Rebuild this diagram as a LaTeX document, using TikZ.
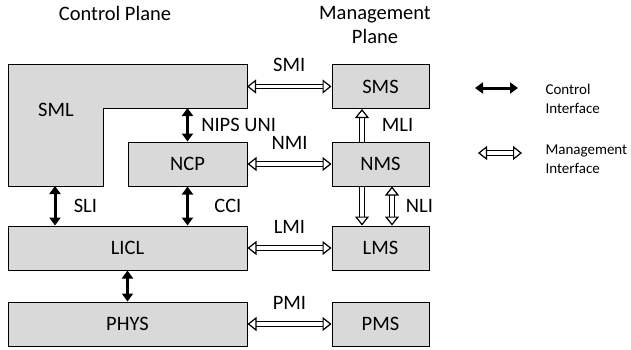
\documentclass[tikz,border=0pt]{standalone}
\usepackage{fontspec}
\setmainfont{Carlito}
\usetikzlibrary{arrows.meta,positioning}
\definecolor{boxgray}{HTML}{D9D9D9}

\begin{document}
\begin{tikzpicture}[x=1pt,y=-1pt,
		font=\fontsize{20.5}{24}\selectfont,
		block/.style={draw,fill=boxgray,line width=1pt,minimum height=44pt,inner sep=0pt},
		ctrl/.style={{Triangle[width=11pt,length=8pt]}-{Triangle[width=11pt,length=8pt]},line width=3pt},
		mgmt/.style={double,double distance=3.2pt,line width=1.2pt,
			{Triangle[open,width=14pt,length=9pt,line width=1.2pt]}-{Triangle[open,width=14pt,length=9pt,line width=1.2pt]}},
		mgmtup/.style={double,double distance=3.2pt,line width=1.2pt,
			arrows={-Triangle[open,width=14pt,length=9pt,line width=1.2pt]}},
		legendtext/.style={font=\fontsize{15}{19}\selectfont,align=left,anchor=west}
		]
		\useasboundingbox (0,0) rectangle (631,349);

		% planes
		\node (cplane) at (115,13) {Control Plane};
		\node[align=center] (mplane) at (375,25) {Management\\Plane};

		% control plane
		\draw[fill=boxgray,line width=1pt] (8,64) -- (247,64) -- (247,108) -- (103,108)
			-- (103,186) -- (8,186) -- cycle;
		\node (SML) at (56,110) {SML};
		\coordinate (smlnotch) at (187.5,108);
		\coordinate (smlbase) at (55,186);
		\coordinate (smlside) at (247,86.5);
		\node[block,minimum width=119pt] (NCP) at (187.5,164) {NCP};
		\node[block,minimum width=239pt] (LICL) at (127.5,248) {LICL};
		\node[block,minimum width=239pt] (PHYS) at (127.5,324) {PHYS};

		% management plane
		\node[block,minimum width=97pt] (SMS) at (380.5,86.5) {SMS};
		\node[block,minimum width=97pt] (NMS) at (380.5,164) {NMS};
		\node[block,minimum width=97pt] (LMS) at (380.5,248) {LMS};
		\node[block,minimum width=97pt] (PMS) at (380.5,324) {PMS};

		% control interfaces
		\draw[ctrl] (smlnotch) -- (NCP.north) node[midway,right=9pt]{NIPS UNI};
		\draw[ctrl] (smlbase) -- (smlbase |- LICL.north) node[midway,right=14pt]{SLI};
		\draw[ctrl] (NCP.south) -- (NCP.south |- LICL.north) node[midway,right=22pt]{CCI};
		\draw[ctrl] (LICL.south) -- (PHYS.north);

		% management interfaces
		\draw[mgmt] (smlside) -- (SMS.west) node[midway,above=11pt]{SMI};
		\draw[mgmt] (NCP.east) -- (NMS.west) node[midway,above=11pt]{NMI};
		\draw[mgmt] (LICL.east) -- (LMS.west) node[midway,above=11pt]{LMI};
		\draw[mgmt] (PHYS.east) -- (PMS.west) node[midway,above=11pt]{PMI};
		\draw[mgmtup] ([xshift=-18.5pt]NMS.north) -- ([xshift=-18.5pt]SMS.south)
			node[midway,right=16pt]{MLI};
		\draw[mgmtup] ([xshift=-18.5pt]NMS.south) -- ([xshift=-18.5pt]LMS.north);
		\draw[mgmt] ([xshift=11.5pt]NMS.south) -- ([xshift=11.5pt]LMS.north)
			node[midway,right=10pt]{NLI};

		% legend
		\coordinate (ctrlA) at (475,88);
		\coordinate (ctrlB) at (518,88);
		\coordinate (mgmtA) at (478,153);
		\coordinate (mgmtB) at (522,153);
		\draw[ctrl] (ctrlA) -- (ctrlB);
		\draw[mgmt] (mgmtA) -- (mgmtB);
		\node[legendtext] (ctrltext) at (542,99) {Control\\Interface};
		\node[legendtext] (mgmttext) at (542,159) {Management\\Interface};
	\end{tikzpicture}
\end{document}
